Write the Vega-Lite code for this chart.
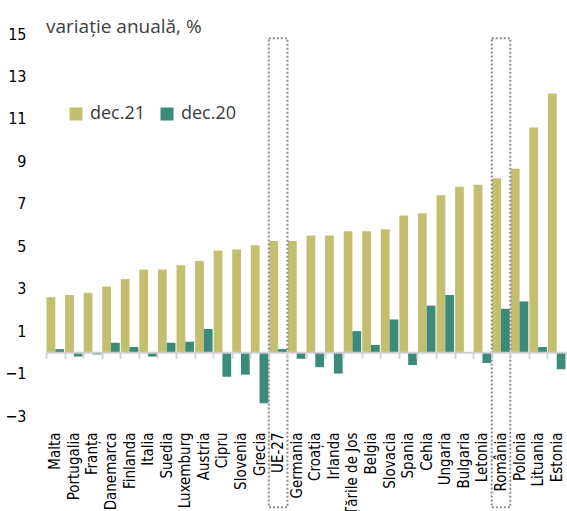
{
  "$schema": "https://vega.github.io/schema/vega-lite/v6.json",
  "width": 520,
  "height": 382,
  "autosize": {"type": "none"},
  "padding": {"left": 46, "top": 34, "right": 1, "bottom": 95},
  "background": "white",
  "config": {"view": {"stroke": null}},
  "title": {"text": "variație anuală, %", "anchor": "start", "frame": "group", "font": "Open Sans", "fontSize": 19, "fontWeight": "normal", "color": "#404040", "offset": -11},
  "data": {"values": [
    {"country": "Malta", "series": "dec.21", "value": 2.6}, {"country": "Malta", "series": "dec.20", "value": 0.15},
    {"country": "Portugalia", "series": "dec.21", "value": 2.7}, {"country": "Portugalia", "series": "dec.20", "value": -0.2},
    {"country": "Franța", "series": "dec.21", "value": 2.8}, {"country": "Franța", "series": "dec.20", "value": -0.1},
    {"country": "Danemarca", "series": "dec.21", "value": 3.1}, {"country": "Danemarca", "series": "dec.20", "value": 0.45},
    {"country": "Finlanda", "series": "dec.21", "value": 3.45}, {"country": "Finlanda", "series": "dec.20", "value": 0.25},
    {"country": "Italia", "series": "dec.21", "value": 3.9}, {"country": "Italia", "series": "dec.20", "value": -0.2},
    {"country": "Suedia", "series": "dec.21", "value": 3.9}, {"country": "Suedia", "series": "dec.20", "value": 0.45},
    {"country": "Luxemburg", "series": "dec.21", "value": 4.1}, {"country": "Luxemburg", "series": "dec.20", "value": 0.5},
    {"country": "Austria", "series": "dec.21", "value": 4.3}, {"country": "Austria", "series": "dec.20", "value": 1.1},
    {"country": "Cipru", "series": "dec.21", "value": 4.8}, {"country": "Cipru", "series": "dec.20", "value": -1.15},
    {"country": "Slovenia", "series": "dec.21", "value": 4.85}, {"country": "Slovenia", "series": "dec.20", "value": -1.05},
    {"country": "Grecia", "series": "dec.21", "value": 5.05}, {"country": "Grecia", "series": "dec.20", "value": -2.4},
    {"country": "UE-27", "series": "dec.21", "value": 5.25}, {"country": "UE-27", "series": "dec.20", "value": 0.15},
    {"country": "Germania", "series": "dec.21", "value": 5.25}, {"country": "Germania", "series": "dec.20", "value": -0.3},
    {"country": "Croația", "series": "dec.21", "value": 5.5}, {"country": "Croația", "series": "dec.20", "value": -0.7},
    {"country": "Irlanda", "series": "dec.21", "value": 5.5}, {"country": "Irlanda", "series": "dec.20", "value": -1.0},
    {"country": "Țările de Jos", "series": "dec.21", "value": 5.7}, {"country": "Țările de Jos", "series": "dec.20", "value": 1.0},
    {"country": "Belgia", "series": "dec.21", "value": 5.7}, {"country": "Belgia", "series": "dec.20", "value": 0.35},
    {"country": "Slovacia", "series": "dec.21", "value": 5.8}, {"country": "Slovacia", "series": "dec.20", "value": 1.55},
    {"country": "Spania", "series": "dec.21", "value": 6.45}, {"country": "Spania", "series": "dec.20", "value": -0.6},
    {"country": "Cehia", "series": "dec.21", "value": 6.55}, {"country": "Cehia", "series": "dec.20", "value": 2.2},
    {"country": "Ungaria", "series": "dec.21", "value": 7.4}, {"country": "Ungaria", "series": "dec.20", "value": 2.7},
    {"country": "Bulgaria", "series": "dec.21", "value": 7.8}, {"country": "Bulgaria", "series": "dec.20", "value": 0.0},
    {"country": "Letonia", "series": "dec.21", "value": 7.9}, {"country": "Letonia", "series": "dec.20", "value": -0.5},
    {"country": "România", "series": "dec.21", "value": 8.2}, {"country": "România", "series": "dec.20", "value": 2.05},
    {"country": "Polonia", "series": "dec.21", "value": 8.65}, {"country": "Polonia", "series": "dec.20", "value": 2.4},
    {"country": "Lituania", "series": "dec.21", "value": 10.6}, {"country": "Lituania", "series": "dec.20", "value": 0.25},
    {"country": "Estonia", "series": "dec.21", "value": 12.2}, {"country": "Estonia", "series": "dec.20", "value": -0.8}
  ]},
  "layer": [
    {
      "mark": {"type": "bar"},
      "encoding": {
        "x": {
          "field": "country", "type": "nominal", "sort": null,
          "scale": {"domain": ["Malta", "Portugalia", "Franța", "Danemarca", "Finlanda", "Italia", "Suedia", "Luxemburg", "Austria", "Cipru", "Slovenia", "Grecia", "UE-27", "Germania", "Croația", "Irlanda", "Țările de Jos", "Belgia", "Slovacia", "Spania", "Cehia", "Ungaria", "Bulgaria", "Letonia", "România", "Polonia", "Lituania", "Estonia"], "paddingInner": 0, "paddingOuter": 0},
          "axis": {"title": null, "domain": false, "ticks": false, "labelAngle": 270, "labelPadding": 16, "labelFont": "DejaVu Sans Condensed", "labelFontSize": 15, "labelColor": "#000000", "labelOverlap": false}
        },
        "xOffset": {"field": "series", "type": "nominal", "sort": ["dec.21", "dec.20"], "scale": {"paddingInner": 0, "paddingOuter": 0.06}},
        "y": {
          "field": "value", "type": "quantitative",
          "scale": {"domain": [-3, 15], "nice": false, "zero": false},
          "axis": {"title": null, "values": [-3, -1, 1, 3, 5, 7, 9, 11, 13, 15], "domain": false, "ticks": false, "grid": false, "labelPadding": 20, "labelFont": "DejaVu Sans Condensed", "labelFontSize": 16, "labelColor": "#000000"}
        },
        "color": {
          "field": "series", "type": "nominal",
          "scale": {"domain": ["dec.21", "dec.20"], "range": ["#c2bf6e", "#3b8a7a"]},
          "legend": {"orient": "none", "legendX": 21, "legendY": 71, "direction": "horizontal", "title": null, "symbolType": "square", "symbolSize": 169, "symbolStrokeWidth": 0, "labelFont": "Open Sans", "labelFontSize": 18, "labelColor": "#3a3a3a", "labelOffset": 5, "columnPadding": 12}
        }
      }
    },
    {
      "data": {"values": [{"country": "UE-27"}, {"country": "România"}]},
      "mark": {"type": "rect", "fill": null, "stroke": "#8a8a8a", "strokeDash": [2, 2], "strokeWidth": 2, "clip": false},
      "encoding": {
        "x": {"field": "country", "type": "nominal", "sort": null,
          "axis": {"orient": "bottom", "offset": -63.7, "labels": false, "title": null, "domainColor": "#cfcfcf", "domainWidth": 2, "tickColor": "#d4d4d4", "tickWidth": 2, "tickSize": 6, "tickBand": "extent"}},
        "y": {"datum": 14.8},
        "y2": {"datum": -7.3}
      }
    }
  ],
  "resolve": {"axis": {"x": "independent"}}
}
